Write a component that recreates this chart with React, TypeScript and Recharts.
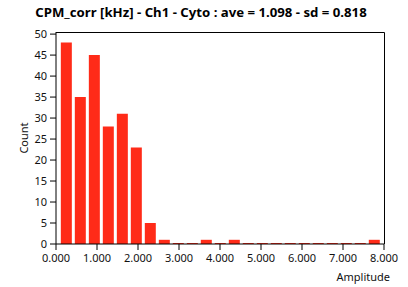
import React from "react";
import { ComposedChart, Bar, XAxis, YAxis } from "recharts";

const binCenters = [0.264, 0.605, 0.947, 1.288, 1.63, 1.971, 2.312, 2.654, 2.995, 3.337, 3.678, 4.019, 4.361, 4.702, 5.044, 5.385, 5.726, 6.068, 6.409, 6.751, 7.092, 7.433, 7.775];
const counts = [48, 35, 45, 28, 31, 23, 5, 1, 0, 0, 1, 0, 1, 0, 0, 0, 0, 0, 0, 0, 0, 0, 1];
const xTicks = [0, 1, 2, 3, 4, 5, 6, 7, 8];
const yTicks = [0, 5, 10, 15, 20, 25, 30, 35, 40, 45, 50];
const title = "CPM_corr [kHz] - Ch1 - Cyto : ave = 1.098 - sd = 0.818";

const data = binCenters.map((x, i) => ({ x, count: counts[i] }));

const FONT = "'Noto Sans', 'Open Sans', sans-serif";
const tickStyle = { fontSize: 11, fill: "#111", fontFamily: FONT };

export default function App() {
  return (
    <div style={{ position: "absolute", left: 0, top: 0, width: 408, height: 287, background: "#fff" }}>
      <div
        style={{
          position: "absolute",
          left: 0,
          top: 3,
          width: 402,
          textAlign: "center",
          fontFamily: FONT,
          fontWeight: 700,
          fontSize: 13.2,
          color: "#000",
          whiteSpace: "nowrap",
        }}
      >
        {title}
      </div>
      <ComposedChart
        width={408}
        height={287}
        data={data}
        margin={{ top: 32, right: 24, bottom: 0, left: 0 }}
      >
        <XAxis
          dataKey="x"
          type="number"
          domain={[0, 8]}
          ticks={xTicks}
          tickFormatter={(v: number) => v.toFixed(3)}
          height={43}
          tickSize={6}
          tickMargin={4}
          tick={tickStyle}
          axisLine={{ stroke: "#000", strokeWidth: 1 }}
          tickLine={{ stroke: "#000" }}
          interval={0}
          allowDataOverflow
          label={{ value: "Amplitude", position: "insideBottomRight", offset: 6, dx: 12, style: { fontSize: 11, fill: "#111", fontFamily: FONT } }}
        />
        <YAxis
          type="number"
          domain={[0, 50.5]}
          ticks={yTicks}
          width={56}
          tickSize={6}
          tickMargin={3}
          tick={tickStyle}
          axisLine={{ stroke: "#000", strokeWidth: 1 }}
          tickLine={{ stroke: "#000" }}
          interval={0}
          allowDataOverflow
          label={{ value: "Count", angle: -90, position: "insideLeft", offset: 24, style: { fontSize: 11, fill: "#111", fontFamily: FONT, textAnchor: "middle" } }}
        />
        <Bar dataKey="count" fill="#ff2b18" barSize={11} minPointSize={1} isAnimationActive={false} />
      </ComposedChart>
      <svg
        width={408}
        height={287}
        style={{ position: "absolute", left: 0, top: 0, pointerEvents: "none" }}
      >
        <path d="M56 32.5 H384.5 V244" fill="none" stroke="#000" strokeWidth={1} />
      </svg>
    </div>
  );
}
